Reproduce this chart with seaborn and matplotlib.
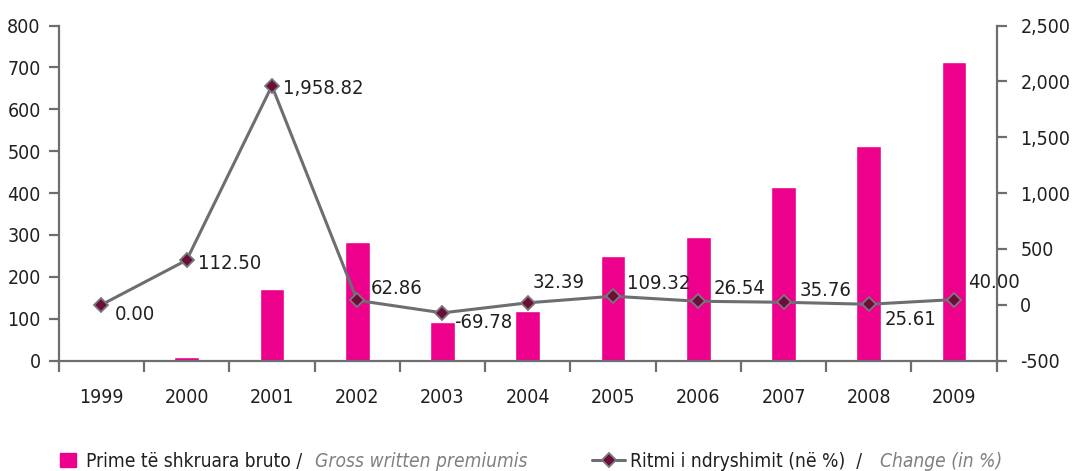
import numpy as np
import pandas as pd
import matplotlib
matplotlib.use("Agg")
import matplotlib.pyplot as plt
import seaborn as sns
from matplotlib import font_manager as fm
from matplotlib.ticker import FuncFormatter
from matplotlib.lines import Line2D
from matplotlib.patches import Rectangle

# ---------------- data ----------------
years = ['1999', '2000', '2001', '2002', '2003', '2004', '2005', '2006', '2007', '2008', '2009']
premiums = [1.5, 8, 171, 284, 93, 119, 250, 295, 414, 512, 713]
change_values = [0, 400, 1960, 40, -72, 18, 77, 32, 23, 5, 47]
change_labels = ['0.00', '112.50', '1,958.82', '62.86', '-69.78', '32.39',
                 '109.32', '26.54', '35.76', '25.61', '40.00']
left_ticks = [0, 100, 200, 300, 400, 500, 600, 700, 800]
right_ticks = [-500, 0, 500, 1000, 1500, 2000, 2500]
legend_bar_main = 'Prime të shkruara bruto /'
legend_bar_en = 'Gross written premiumis'
legend_line_main = 'Ritmi i ndryshimit (në %)  /'
legend_line_en = 'Change (in %)'

# label offsets (pixels) relative to each point
label_offsets = [(13, -10), (11, -3), (11, -3), (14, 12), (12, -10), (5, 20),
                 (14, 13), (15, 13), (16, 12), (16, -15), (14, 17)]

# ---------------- style ----------------
sns.set_theme(style='white')
names = {f.name for f in fm.fontManager.ttflist}
if 'Liberation Sans Narrow' in names:
    plt.rcParams['font.family'] = ['Liberation Sans Narrow', 'DejaVu Sans']
else:
    plt.rcParams['font.family'] = ['DejaVu Sans']
    plt.rcParams['font.stretch'] = 'condensed'
plt.rcParams['axes.unicode_minus'] = False

BAR = '#EC008C'
GREY = '#6D6E71'
AXC = '#6D6E71'
TXT = '#231F20'
MARK = '#6B0E3A'
TICK_FS = 14
LABEL_FS = 14.5
LEG_FS = 13.8

W, H = 1072, 471
fig = plt.figure(figsize=(W / 100, H / 100), dpi=100)
ax = fig.add_axes([58.7 / W, 1 - 360.7 / H, (996.7 - 58.7) / W, (360.7 - 25.5) / H])

df = pd.DataFrame({'year': years, 'premium': premiums})
sns.barplot(data=df, x='year', y='premium', color=BAR, saturation=1,
            width=0.29, ax=ax)

ax2 = ax.twinx()
sns.lineplot(x=np.arange(len(years)), y=change_values, ax=ax2, color=GREY,
             lw=2.2, marker='D', markersize=7, markerfacecolor=MARK,
             markeredgecolor='#7A7A7A', markeredgewidth=1.3)

for i, (v, s, (dx, dy)) in enumerate(zip(change_values, change_labels, label_offsets)):
    ax2.annotate(s, (i, v), xytext=(dx, dy), textcoords='offset pixels',
                 ha='left', va='center', fontsize=LABEL_FS, color=TXT)

# axes limits
ax.set_xlim(-0.5, len(years) - 0.5)
ax.set_ylim(0, 800)
ax2.set_ylim(-500, 2500)

# spines
for a in (ax, ax2):
    for s in a.spines.values():
        s.set_visible(False)
        s.set_color(AXC)
        s.set_linewidth(1.6)
ax.spines['left'].set_visible(True)
ax.spines['bottom'].set_visible(True)
ax2.spines['right'].set_visible(True)

# ticks
major_x = np.arange(-0.5, len(years), 1.0)
ax.set_xticks(major_x)
ax.set_xticklabels([''] * len(major_x))
ax.set_xticks(np.arange(len(years)), minor=True)
ax.set_xticklabels(years, minor=True)
ax.tick_params(axis='x', which='major', bottom=True, length=8, width=1.6,
               color=AXC, direction='out')
ax.tick_params(axis='x', which='minor', bottom=True, length=0, pad=19.5,
               labelsize=TICK_FS, labelcolor=TXT)

ax.set_yticks(left_ticks)
ax.yaxis.set_major_formatter(FuncFormatter(lambda v, p: f'{v:.0f}'))
ax.tick_params(axis='y', left=True, length=7, width=1.6, color=AXC,
               direction='out', pad=6, labelsize=TICK_FS, labelcolor=TXT)

ax2.set_yticks(right_ticks)
ax2.yaxis.set_major_formatter(FuncFormatter(lambda v, p: f'{v:,.0f}'))
ax2.tick_params(axis='y', right=True, length=7, width=1.6, color=AXC,
                direction='out', pad=10, labelsize=TICK_FS, labelcolor=TXT)

ax.set_xlabel('')
ax.set_ylabel('')
ax2.set_ylabel('')
ax.grid(False)
ax2.grid(False)

# ---------------- legend (manual) ----------------
base_y = 1 - 466.7 / H
fig.patches.append(Rectangle((60 / W, 1 - 467 / H), 16 / W, 14 / H,
                             transform=fig.transFigure, color=BAR))
fig.text(86 / W, base_y, legend_bar_main, fontsize=LEG_FS, color=TXT, va='baseline')
fig.text(315 / W, base_y, legend_bar_en, fontsize=LEG_FS, color='#808080',
         style='italic', va='baseline')

ly = 1 - 459.5 / H
fig.add_artist(Line2D([592 / W, 625 / W], [ly, ly], transform=fig.transFigure,
                      color=GREY, lw=2.2))
fig.add_artist(Line2D([609 / W], [ly], transform=fig.transFigure, marker='D',
                      markersize=7, markerfacecolor=MARK, markeredgecolor='#7A7A7A',
                      markeredgewidth=1.3, lw=0))
fig.text(630 / W, base_y, legend_line_main, fontsize=LEG_FS, color=TXT, va='baseline')
fig.text(880 / W, base_y, legend_line_en, fontsize=LEG_FS, color='#808080',
         style='italic', va='baseline')

fig.savefig('out.png', dpi=100)
